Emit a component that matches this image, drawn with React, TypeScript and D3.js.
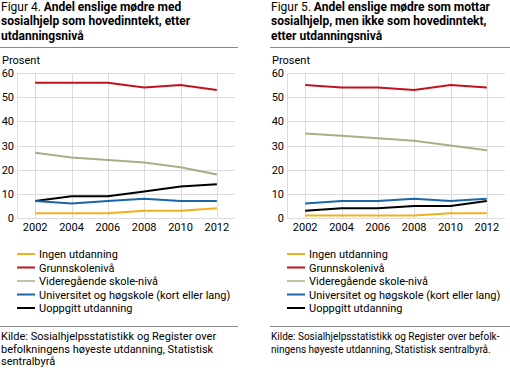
import * as React from 'react';
import {scaleLinear, line} from 'd3';

const years = [2002, 2004, 2006, 2008, 2010, 2012];
const yTicks = [0, 10, 20, 30, 40, 50, 60];

const seriesNames = [
    'Ingen utdanning',
    'Grunnskolenivå',
    'Videregående skole-nivå',
    'Universitet og høgskole (kort eller lang)',
    'Uoppgitt utdanning'
];
const seriesColors = ['#f2b11c', '#c0121f', '#a9ae86', '#1b67a6', '#000000'];
const legendColors = ['#f2b11c', '#c0121f', '#c2c3a3', '#1b67a6', '#000000'];

// Figur 4
const fig4Ingen = [2, 2, 2, 3, 3, 4];
const fig4Grunn = [56, 56, 56, 54, 55, 53];
const fig4Vgs = [27, 25, 24, 23, 21, 18];
const fig4Univ = [7, 6, 7, 8, 7, 7];
const fig4Uopp = [7, 9, 9, 11, 13, 14];

// Figur 5
const fig5Ingen = [1, 1, 1, 1, 2, 2];
const fig5Grunn = [55, 54, 54, 53, 55, 54];
const fig5Vgs = [35, 34, 33, 32, 30, 28];
const fig5Univ = [6, 7, 7, 8, 7, 8];
const fig5Uopp = [3, 4, 4, 5, 5, 7];

const font = 'Roboto, sans-serif';

type ChartProps = {
    x0: number;
    titleNo: string;
    title: string[];
    sepRight: number;
    series: number[][];
    source: string[];
    sourceSize?: number;
};

const Chart = ({x0, titleNo, title, sepRight, series, source, sourceSize = 11}: ChartProps) => {
    const axisX = x0 + 17;
    const xScale = scaleLinear().domain([2001, 2013]).range([axisX, axisX + 218]);
    const yScale = scaleLinear().domain([0, 60]).range([218, 73]);
    const path = line<number>()
        .x((_, i) => xScale(years[i]))
        .y(d => yScale(d));
    const drawOrder = [2, 4, 3, 0, 1];
    return (
        <g fontFamily={font} fill="#000">
            {title.map((t, i) => (
                <text key={i} x={x0 + 1} y={10.5 + i * 14.5} fontSize={12}>
                    {i === 0 && <tspan fontWeight="normal">{titleNo} </tspan>}
                    <tspan fontWeight="bold">{t}</tspan>
                </text>
            ))}
            <line x1={x0} x2={sepRight} y1={47.5} y2={47.5} stroke="#8a8a8a" />
            <text x={x0 + 2} y={64} fontSize={11}>Prosent</text>
            {yTicks.map(t => (
                <g key={t}>
                    <line x1={axisX} x2={axisX + 218} y1={Math.round(yScale(t)) + 0.5} y2={Math.round(yScale(t)) + 0.5} stroke="#dcdcdc" />
                    <text x={axisX - 3} y={yScale(t) + 4} fontSize={11} textAnchor="end">{t}</text>
                </g>
            ))}
            <line x1={axisX + 0.5} x2={axisX + 0.5} y1={yScale(60)} y2={yScale(0)} stroke="#dcdcdc" />
            {years.map(yr => (
                <g key={yr}>
                    <line x1={Math.round(xScale(yr)) + 0.5} x2={Math.round(xScale(yr)) + 0.5} y1={yScale(60)} y2={yScale(0)} stroke="#dcdcdc" />
                    <text x={xScale(yr)} y={231} fontSize={11} textAnchor="middle">{yr}</text>
                </g>
            ))}
            {drawOrder.map(i => (
                <path key={i} d={path(series[i]) || ''} fill="none" stroke={seriesColors[i]} strokeWidth={2} />
            ))}
            {seriesNames.map((n, i) => (
                <g key={n}>
                    <line x1={axisX} x2={axisX + 18} y1={254 + i * 13.5} y2={254 + i * 13.5} stroke={legendColors[i]} strokeWidth={2} />
                    <text x={axisX + 22} y={258 + i * 13.5} fontSize={11}>{n}</text>
                </g>
            ))}
            <line x1={x0} x2={sepRight} y1={326.5} y2={326.5} stroke="#8a8a8a" />
            {source.map((s, i) => (
                <text key={i} x={x0 + 1} y={340 + i * 12.5} fontSize={sourceSize}>{s}</text>
            ))}
        </g>
    );
};

const App = () => (
    <svg width={510} height={371} style={{position: 'absolute', left: 0, top: 0, background: '#fff'}}>
        <Chart
            x0={0}
            titleNo="Figur 4."
            title={['Andel enslige mødre med', 'sosialhjelp som hovedinntekt, etter', 'utdanningsnivå']}
            sepRight={238}
            series={[fig4Ingen, fig4Grunn, fig4Vgs, fig4Univ, fig4Uopp]}
            source={['Kilde: Sosialhjelpsstatistikk og Register over', 'befolkningens høyeste utdanning, Statistisk', 'sentralbyrå']}
        />
        <Chart
            x0={270}
            titleNo="Figur 5."
            title={['Andel enslige mødre som mottar', 'sosialhjelp, men ikke som hovedinntekt,', 'etter utdanningsnivå']}
            sepRight={510}
            series={[fig5Ingen, fig5Grunn, fig5Vgs, fig5Univ, fig5Uopp]}
            source={['Kilde: Sosialhjelpsstatistikk og Register over befolk-', 'ningens høyeste utdanning, Statistisk sentralbyrå.']}
            sourceSize={10}
        />
    </svg>
);

export default App;
